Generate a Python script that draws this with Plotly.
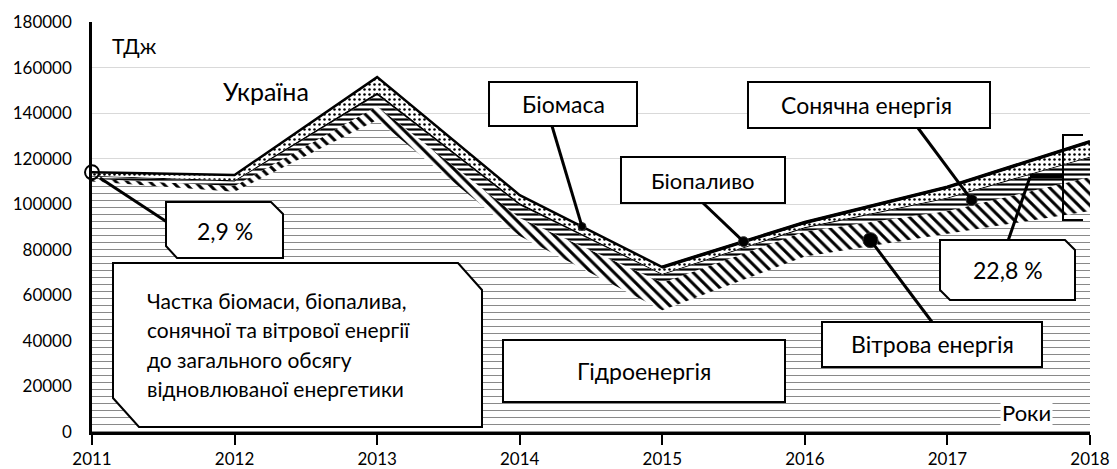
import numpy as np
import plotly.graph_objects as go

# ---------------- data ----------------
years   = [2011, 2012, 2013, 2014, 2015, 2016, 2017, 2018]
hydro   = [110000, 105500, 137000, 86000, 53500, 77000, 87000, 97000]
wind    = [1200, 2500, 6000, 8000, 12000, 11000, 10000, 15000]
solar   = [1000, 2000, 5000, 5500, 3500, 1500, 5500, 8500]
biofuel = [300, 500, 1000, 1000, 500, 500, 500, 500]
biomass = [1500, 2300, 6800, 3500, 2900, 2000, 4500, 6500]
y_ticks = list(range(0, 180001, 20000))
x_ticks = years

FONT = "Lato"
W, H = 1117, 469
L, R, T, B = 92, 27, 22, 37
PW, PH = W - L - R, H - T - B


def px(x):  # pixel -> paper x
    return (x - L) / PW


def py(y):  # pixel -> paper y
    return (H - B - y) / PH


def dx(yr):  # data -> paper x
    return (yr - years[0]) / (years[-1] - years[0])


def dy(v):
    return v / 180000


h = np.array(hydro, float)
w = np.array(wind, float)
s = np.array(solar, float)
bf = np.array(biofuel, float)
bm = np.array(biomass, float)
total = h + w + s + bf + bm

fig = go.Figure()

layers = [
    ("Гідроенергія", hydro, dict(shape="-", fgcolor="#666666", bgcolor="white", size=7, solidity=0.11), 0),
    ("Вітрова енергія", wind, dict(shape="\\", fgcolor="black", bgcolor="white", size=8, solidity=0.38), 0),
    ("Сонячна енергія", solar, dict(shape="-", fgcolor="black", bgcolor="white", size=5, solidity=0.45), 0),
    ("Біопаливо", biofuel, None, 0),
    ("Біомаса", biomass, dict(shape=".", fgcolor="black", bgcolor="white", size=5, solidity=0.2), 2.5),
]
for name, vals, pat, lw in layers:
    kw = dict(x=years, y=vals, name=name, mode="lines", stackgroup="one",
              line=dict(color="black", width=lw if lw else 0.01), hoverinfo="skip")
    if pat is None:
        kw["fillcolor"] = "black"
    else:
        kw["fillcolor"] = "white"
        kw["fillpattern"] = dict(fillmode="replace", **pat)
    fig.add_trace(go.Scatter(**kw))

# thicker top edge on the rising 2015-2018 stretch
fig.add_trace(go.Scatter(x=years[4:], y=list(total[4:]), mode="lines",
                         line=dict(color="black", width=3.5), hoverinfo="skip", showlegend=False))


def on(arr, yr):
    return float(np.interp(yr, years, arr))


dots = {
    "biomass": (2014.437, on(total, 2014.437), 8),
    "biofuel": (2015.57, on(total, 2015.57), 10),
    "solar": (2017.17, on(h + w, 2017.17) + 0.38 * on(s, 2017.17), 11),
    "wind": (2016.46, on(h, 2016.46) + 0.25 * on(w, 2016.46), 15),
}
for k, (xx, yy, sz) in dots.items():
    fig.add_trace(go.Scatter(x=[xx], y=[yy], mode="markers", cliponaxis=False,
                             marker=dict(size=sz, color="black", line=dict(color="#333", width=1)),
                             hoverinfo="skip", showlegend=False))
fig.add_trace(go.Scatter(x=[years[0]], y=[float(total[0])], mode="markers", cliponaxis=False,
                         marker=dict(size=14, symbol="circle-open", color="black", line=dict(width=2)),
                         hoverinfo="skip", showlegend=False))

shapes = []


def snip_box(x0, y0, x1, y1, trx, try_, blx, bly):
    pts = [(x0, y0), (x1 - trx, y0), (x1, y0 + try_), (x1, y1), (x0 + blx, y1), (x0, y1 - bly)]
    path = "M " + " L ".join(f"{px(a):.5f},{py(b):.5f}" for a, b in pts) + " Z"
    shapes.append(dict(type="path", path=path, xref="paper", yref="paper",
                       fillcolor="white", line=dict(color="black", width=2), layer="above"))


def rect(x0, y0, x1, y1):
    snip_box(x0, y0, x1, y1, 0, 0, 0, 0)


def seg(x0, y0, x1, y1, width=3):
    shapes.append(dict(type="line", x0=x0, y0=y0, x1=x1, y1=y1, xref="paper", yref="paper",
                       line=dict(color="black", width=width), layer="above"))


seg(px(552), py(126), dx(dots["biomass"][0]), dy(dots["biomass"][1]))
seg(px(703), py(203), dx(dots["biofuel"][0]), dy(dots["biofuel"][1]))
seg(px(918), py(128), dx(dots["solar"][0]), dy(dots["solar"][1]))
seg(px(932), py(322), dx(dots["wind"][0]), dy(dots["wind"][1]))
seg(px(100), py(178), px(167), py(222))
seg(px(1008), py(241), px(1030), py(177))
seg(px(1030), py(176), px(1063), py(176), width=5)
shapes.append(dict(type="path", xref="paper", yref="paper", layer="above",
                   path=f"M {px(1083)},{py(135)} L {px(1063)},{py(135)} L {px(1063)},{py(220)} L {px(1083)},{py(220)}",
                   line=dict(color="black", width=2)))

rect(489, 82, 637, 126)            # Біомаса
rect(621, 157, 785, 203)           # Біопаливо
rect(748, 82, 990, 128)            # Сонячна енергія
rect(822, 322, 1042, 367)          # Вітрова енергія
rect(503, 340, 785, 402)           # Гідроенергія
snip_box(166, 202, 283, 258, 12, 12, 11, 12)     # 2,9 %
snip_box(940, 240, 1075, 300, 10, 10, 10, 10)    # 22,8 %
snip_box(113, 263, 482, 427, 24, 27, 26, 29)     # big box

annotations = []


def text(t, x, y, size=23, xanchor="center", bg=None):
    a = dict(text=t, x=px(x), y=py(y), xref="paper", yref="paper", showarrow=False,
             font=dict(family=FONT, size=size, color="black"), xanchor=xanchor, yanchor="middle")
    if bg:
        a["bgcolor"] = bg
        a["borderpad"] = 1
    annotations.append(a)


text("Біомаса", 563, 104)
text("Біопаливо", 703, 180, size=22)
text("Сонячна енергія", 866, 105)
text("Вітрова енергія", 932, 344)
text("Гідроенергія", 644, 371)
text("2,9 %", 225, 231)
text("22,8 %", 1008, 270)
text("ТДж", 110, 45, size=21, xanchor="left")
text("Україна", 221, 91, size=25, xanchor="left")
text("Роки", 1000, 412, size=22, xanchor="left", bg="white")
for i, line in enumerate(["Частка біомаси, біопалива,", "сонячної та вітрової енергії",
                          "до загального обсягу", "відновлюваної енергетики"]):
    text(line, 145, 300 + i * 29.5, size=21, xanchor="left")

fig.update_layout(
    width=W, height=H,
    margin=dict(l=L, r=R, t=T, b=B, pad=0),
    paper_bgcolor="white", plot_bgcolor="white",
    showlegend=False,
    shapes=shapes, annotations=annotations,
    font=dict(family=FONT, size=17, color="black"),
    xaxis=dict(range=[years[0], years[-1]], tickvals=x_ticks, ticktext=[str(v) for v in x_ticks],
               showgrid=False, zeroline=False, showline=True, linecolor="black", linewidth=3,
               ticks="outside", ticklen=10, tickwidth=2, tickcolor="black", automargin=False,
               tickfont=dict(family=FONT, size=17, color="black")),
    yaxis=dict(range=[0, 180000], tickvals=y_ticks, ticktext=[str(v) for v in y_ticks],
               showgrid=True, gridcolor="#d9d9d9", gridwidth=1, zeroline=False, automargin=False,
               showline=True, linecolor="black", linewidth=2.5, ticks="", ticklabelstandoff=14,
               tickfont=dict(family=FONT, size=17, color="black")),
)

fig.write_html("out.html", config={"displayModeBar": False},
               post_script="document.body.style.margin='0';document.body.style.overflow='hidden';")
